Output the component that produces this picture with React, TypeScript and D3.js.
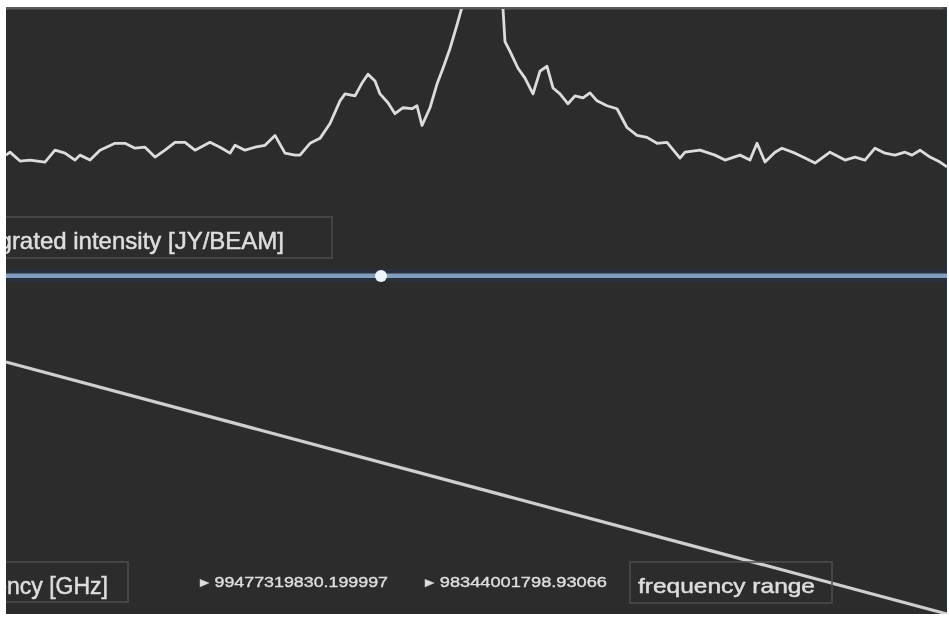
import React from "react";
import * as d3 from "d3";

// Spectrum: channel index vs intensity (arbitrary units)
const channels = [0,4,14,24,39,49,59,69,74,84,94,109,119,129,139,149,159,169,179,189,204,214,224,229,239,249,259,269,279,289,294,304,314,324,334,339,349,356,362,369,374,382,389,397,406,411,416,424,431,437,444,451,456,464,474,484,494,497,499,504,512,519,527,534,541,547,554,562,569,577,584,591,601,611,621,631,641,651,661,674,679,694,709,719,734,744,751,759,769,776,789,799,809,824,839,849,859,869,879,889,899,906,914,924,934,941];
const intensity = [1.0,1.3,0.4,0.5,0.3,1.5,1.2,0.5,1.0,0.5,1.5,2.2,2.2,1.7,1.8,0.8,1.5,2.3,2.3,1.5,2.3,1.8,1.2,2.0,1.5,1.8,2.0,3.0,1.2,1.0,1.0,2.2,2.7,4.2,6.5,7.2,7.0,8.3,9.2,8.5,7.2,6.3,5.2,5.8,5.7,6.0,4.0,5.8,8.2,9.8,11.8,14.2,16.0,19.5,22.5,21.5,17.5,15.8,12.5,11.5,9.8,8.8,7.2,9.5,10.0,7.8,7.2,6.2,7.0,6.8,7.3,6.5,6.0,5.7,3.8,3.0,2.8,2.2,2.3,0.7,1.3,1.5,1.0,0.5,1.0,0.5,2.2,0.3,1.3,1.7,1.2,0.7,0.2,1.3,0.5,0.8,0.5,1.7,1.2,1.0,1.3,1.0,1.5,0.8,0.3,-0.2];

// Frequency vs channel (GHz)
const freqChannels = [0, 941];
const freqValues = [99.47731983, 98.34400179];

const sliderValue = 375; // channel of slider knob

const intensityLabel = "Integrated intensity [JY/BEAM]";
const freqLabel = "Frequency [GHz]";
const rangeStart = "\u25B8 99477319830.199997";
const rangeEnd = "\u25B8 98344001798.93066";
const rangeLabel = "frequency range";

export default function App() {
  const W = 949, H = 618;
  const left = 6, right = 947, top = 7, bottom = 614;
  const x = d3.scaleLinear().domain([0, 941]).range([left, right]);
  const y = d3.scaleLinear().domain([0, 15.8]).range([165, 9]);
  const yF = d3.scaleLinear().domain([freqValues[0], freqValues[1]]).range([362, 614]);

  const specData = channels.map((c, i) => [c, intensity[i]] as [number, number]);
  const line = d3.line<[number, number]>().x(d => x(d[0])).y(d => y(d[1])).curve(d3.curveLinear);
  const fData = freqChannels.map((c, i) => [c, freqValues[i]] as [number, number]);
  const fLine = d3.line<[number, number]>().x(d => x(d[0])).y(d => yF(d[1]));

  const font = "'Liberation Sans', Arial, sans-serif";
  const txt = "#dedede";
  const border = "#4e4e4e";
  const tStyle = { paintOrder: "stroke" as const };

  return (
    <svg width={W} height={H} style={{ position: "absolute", left: 0, top: 0, background: "#fff" }}>
      <defs>
        <clipPath id="area">
          <rect x={left} y={top + 2} width={right - left} height={bottom - top - 2} />
        </clipPath>
        <filter id="blur" filterUnits="userSpaceOnUse" x="0" y="0" width={W} height={H}>
          <feGaussianBlur stdDeviation="0.6" />
        </filter>
        <filter id="tblur" filterUnits="userSpaceOnUse" x="0" y="0" width={W} height={H}>
          <feGaussianBlur stdDeviation="0.7" />
        </filter>
      </defs>
      <rect x={left} y={top} width={right - left} height={bottom - top} fill="#2c2c2c" />
      <rect x={left} y={top} width={right - left} height={2.5} fill="#5a5a5a" />
      <rect x={right - 4} y={top} width={4} height={bottom - top} fill="#27303a" opacity={0.6} />

      <g clipPath="url(#area)">
        {/* spectrum */}
        <path d={line(specData) ?? ""} fill="none" stroke="#dcdcdc" strokeWidth={2.8} strokeLinejoin="round" filter="url(#blur)" />

        {/* intensity label box */}
        <rect x={left - 40} y={217} width={332 - left + 40} height={41} fill="none" stroke={border} strokeWidth={1.5} />
        <text x={284} y={249} textAnchor="end" fill={txt} stroke={txt} strokeWidth={0.5} style={tStyle} fontFamily={font} fontSize={24} filter="url(#tblur)">{intensityLabel}</text>

        {/* slider */}
        <rect x={left} y={269} width={right - left} height={13} fill="#28313d" opacity={0.9} />
        <rect x={left} y={273.5} width={right - left} height={4.5} fill="#829dbd" filter="url(#blur)" />
        <circle cx={x(sliderValue)} cy={276} r={6} fill="#eef4fa" filter="url(#blur)" />

        {/* frequency line */}
        <path d={fLine(fData) ?? ""} fill="none" stroke="#cfcfcf" strokeWidth={3.2} filter="url(#blur)" />

        {/* bottom controls */}
        <rect x={left - 40} y={562} width={128 - left + 40} height={40} fill="none" stroke={border} strokeWidth={1.5} />
        <text x={108} y={594} textAnchor="end" fill={txt} stroke={txt} strokeWidth={0.5} style={tStyle} fontFamily={font} fontSize={23} filter="url(#tblur)">{freqLabel}</text>

        <text x={200} y={587} fill={txt} stroke={txt} strokeWidth={0.4} fontFamily={font} fontSize={15} textLength={188} lengthAdjust="spacingAndGlyphs" filter="url(#tblur)">{rangeStart}</text>
        <text x={425} y={587} fill={txt} stroke={txt} strokeWidth={0.4} fontFamily={font} fontSize={15} textLength={182} lengthAdjust="spacingAndGlyphs" filter="url(#tblur)">{rangeEnd}</text>

        <rect x={630} y={562} width={202} height={41} fill="none" stroke={border} strokeWidth={1.5} />
        <text x={638} y={593} fill={txt} stroke={txt} strokeWidth={0.5} fontFamily={font} fontSize={21} textLength={177} lengthAdjust="spacingAndGlyphs" filter="url(#tblur)">{rangeLabel}</text>
      </g>
    </svg>
  );
}
